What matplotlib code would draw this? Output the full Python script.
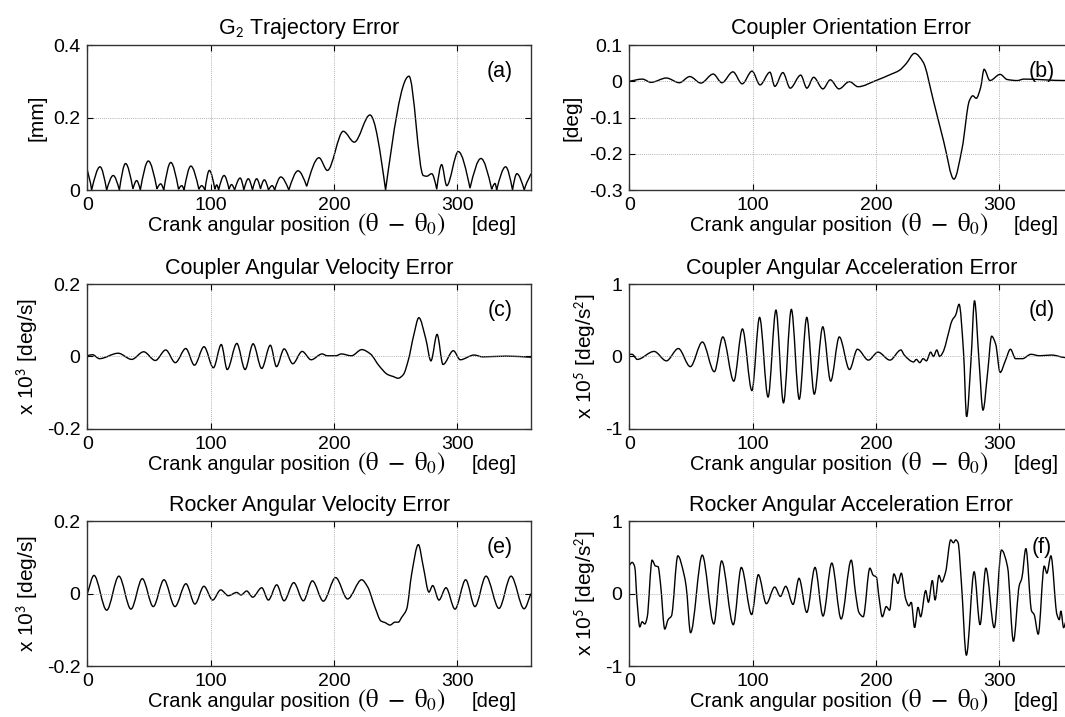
import matplotlib
matplotlib.use("Agg")
import matplotlib.pyplot as plt
from matplotlib.path import Path
from matplotlib.patches import PathPatch

plt.rcParams['font.family'] = ['Liberation Sans', 'DejaVu Sans']
plt.rcParams['mathtext.fontset'] = 'stix'

# (a) G2 trajectory error [mm]
a_x = [0, 3.5, 10.3, 15.7, 21, 26, 31, 37, 40, 43, 49.5, 56.5, 59.5, 62, 67.7, 74, 76.6, 78.5,
       84, 90.5, 92.8, 95.4, 99, 103.5, 105, 106.5, 111, 115, 117, 119.5, 124, 127, 130.6, 134,
       137.4, 140.5, 143.6, 147, 150, 152, 157, 163.5, 171, 178, 188, 194.8, 207.7, 216.6,
       229.3, 242, 261, 272.6, 275.4, 279.4, 283.5, 287.5, 291.6, 301, 310.5, 319.4, 328.1,
       330.8, 332.1, 339.4, 345, 348.5, 354.5, 360]
a_y = [0.055, 0, 0.064, 0, 0.040, 0, 0.073, 0.003, 0.026, 0, 0.080, 0.003, 0.017, 0, 0.076, 0.002, 0.012, 0,
       0.066, 0.002, 0.012, 0, 0.054, 0.002, 0.014, 0, 0.040, 0.002, 0.015, 0, 0.033, 0, 0.031, 0,
       0.031, 0.003, 0.028, 0, 0.012, 0, 0.036, 0, 0.053, 0.010, 0.089, 0.054, 0.162, 0.132,
       0.207, 0, 0.314, 0.040, 0.038, 0.045, 0.002, 0.070, 0.012, 0.106, 0.005, 0.087, 0.002,
       0.018, 0, 0.064, 0, 0.045, 0, 0.045]

# (b) coupler orientation error [deg]
b_x = [0, 10.5, 17.5, 30, 40.5, 49, 58, 68, 75, 84, 91.5, 99.5, 106, 114, 118, 124.5, 130.5,
       139, 144, 149.5, 157, 163, 170, 178.5, 185.5, 200, 212, 219, 224.4, 231.4, 238.3, 246.7,
       255, 263.3, 270, 275.8, 278.6, 281.4, 285, 287.8, 292.5, 300.8, 306.4, 314.7, 320, 353.6, 360]
b_y = [0, 0.006, -0.003, 0.009, -0.004, 0.013, -0.005, 0.020, -0.004, 0.026, -0.007, 0.028, -0.010,
       0.025, -0.014, 0.024, -0.019, 0.017, -0.019, 0.011, -0.021, 0.004, -0.021, -0.001, -0.015,
       0.002, 0.019, 0.030, 0.048, 0.077, 0.053, -0.054, -0.166, -0.270, -0.184, -0.054, -0.040,
       -0.047, -0.017, 0.033, 0.002, 0.019, 0.005, 0.002, 0.006, 0.002, 0.002]

# (c) coupler angular velocity error [x10^3 deg/s]
c_x = [0, 4.2, 9.8, 25, 36, 45.7, 55.2, 63.6, 71.4, 79.9, 86.9, 94.7, 102.3, 108.7, 113.5, 121.3,
       128, 134.5, 141.5, 148.5, 153.5, 159.7, 166.7, 174.3, 181.6, 190.5, 194.7, 201.7, 206,
       214.3, 222.7, 229.7, 236.8, 243.8, 248, 252.2, 256.4, 260.6, 264.8, 269, 274.6, 278.8,
       283.8, 288.6, 297, 302.6, 313.8, 320.8, 340, 360]
c_y = [0.002, 0.005, -0.006, 0.009, -0.008, 0.013, -0.011, 0.018, -0.017, 0.022, -0.024, 0.027,
       -0.031, 0.033, -0.036, 0.036, -0.036, 0.035, -0.033, 0.031, -0.028, 0.021, -0.020, 0.014,
       -0.009, 0.007, 0.002, 0.002, 0.007, 0.002, 0.019, 0.007, -0.026, -0.050, -0.055, -0.060,
       -0.050, -0.008, 0.058, 0.107, 0.049, -0.012, 0.061, -0.022, 0.016, -0.009, 0.004, -0.001,
       0.001, -0.002]

# (d) coupler angular acceleration error [x10^5 deg/s^2]
d_x = [0, 2.2, 6.4, 20, 30, 39.7, 49.4, 59.2, 68.9, 75.8, 84.7, 91.7, 99.4, 105.6, 112.5, 118.9,
       125, 131.4, 137.8, 143.9, 150, 156.9, 163.3, 170.3, 178.6, 185, 193.9, 201.7, 211.4, 220.3,
       223, 230.6, 232.8, 235.6, 238.3, 241, 244.4, 246.7, 249.4, 251.7, 255, 257.8, 261.9, 264.7,
       267.5, 271.1, 273.6, 277.2, 280, 283.6, 286.9, 290.6, 293.9, 297.2, 300.8, 305, 309.2,
       313.3, 318.9, 325.8, 332.8, 342.5, 353.6, 360]
d_y = [0.03, 0.03, -0.04, 0.07, -0.06, 0.11, -0.14, 0.20, -0.21, 0.27, -0.34, 0.38, -0.47, 0.54,
       -0.56, 0.64, -0.64, 0.65, -0.59, 0.54, -0.52, 0.41, -0.34, 0.27, -0.18, 0.10, -0.05, 0.06,
       -0.05, 0.09, 0.02, -0.075, -0.04, -0.085, -0.03, -0.06, 0.06, 0.0, 0.09, 0.0, 0.08, 0.25,
       0.50, 0.57, 0.72, 0.06, -0.83, -0.04, 0.77, -0.04, -0.74, -0.23, 0.28, 0.17, -0.22, -0.06,
       0.10, -0.03, -0.03, 0.03, 0.01, 0.02, -0.015, -0.02]

# (e) rocker angular velocity error [x10^3 deg/s]
e_x = [0, 5.4, 15.7, 25.6, 35.4, 44.6, 53.5, 62.2, 71.1, 80, 87.3, 94.6, 101.7, 108.2, 114.4,
       121.2, 124.7, 129.3, 134.2, 141.5, 146.9, 153.7, 159.6, 167.5, 175.3, 182.6, 191.5, 201.5,
       211.2, 222.6, 227.5, 233.4, 238.3, 241.5, 245.6, 249.6, 252.3, 255, 259.1, 263.2, 268.6,
       272.6, 277.2, 280.2, 285.3, 291, 298.3, 307, 314.5, 323.5, 334, 343.8, 354.4, 360]
e_y = [0, 0.050, -0.046, 0.048, -0.043, 0.041, -0.036, 0.038, -0.036, 0.027, -0.029, 0.020,
       -0.018, 0.010, -0.006, 0.003, -0.004, 0.007, -0.010, 0.016, -0.018, 0.024, -0.020, 0.030,
       -0.020, 0.035, -0.021, 0.044, -0.015, 0.038, 0.018, -0.038, -0.076, -0.080, -0.087,
       -0.079, -0.079, -0.066, -0.043, 0.055, 0.135, 0.074, 0.004, 0.022, -0.018, 0.016, -0.043,
       0.038, -0.036, 0.048, -0.041, 0.048, -0.042, 0]

# (f) rocker angular acceleration error [x10^5 deg/s^2]
f_x = [0, 2.2, 4.3, 6.2, 8.4, 10.3, 12.5, 14.4, 18.4, 21.1, 23.3, 25.2, 28.7, 31.4, 34.1, 39.3,
       44.2, 46.1, 49.6, 59.1, 68.5, 74.8, 84.3, 90.8, 99.2, 104.6, 111.1, 117.9, 122.5, 126.8,
       132.8, 137.6, 143.9, 150.6, 157.1, 164.2, 171.8, 180, 183.5, 186.2, 189.7, 195.1, 197.9,
       200.3, 202.5, 205.2, 208.4, 211.1, 214.6, 217.9, 220.6, 224.1, 226.8, 228.7, 231.4, 234.2,
       236.3, 240.4, 242.6, 245.8, 248, 251.2, 253.4, 256.6, 260.7, 262.9, 264.8, 266.7, 269.4,
       273.4, 279.7, 284.5, 289.2, 296, 301.9, 306.8, 311.6, 316.3, 318.4, 321.7, 326.3, 328.4,
       331.7, 336.6, 338.7, 342, 346.9, 348.8, 350.1, 352.3, 354.2, 360]
f_y = [0.39, 0.43, 0.37, -0.10, -0.46, -0.39, -0.42, -0.33, 0.46, 0.38, 0.37, 0.14, -0.49, -0.36,
       -0.31, 0.52, 0.27, 0.09, -0.54, 0.53, -0.42, 0.45, -0.43, 0.36, -0.29, 0.26, -0.14, 0.09,
       -0.04, 0.10, -0.15, 0.21, -0.26, 0.36, -0.31, 0.42, -0.35, 0.46, 0.0, -0.26, -0.32, 0.35,
       0.25, 0.23, -0.05, -0.32, -0.18, -0.23, 0.27, 0.14, 0.28, -0.07, -0.17, -0.12, -0.47,
       -0.19, -0.32, 0.04, -0.12, 0.18, -0.09, 0.25, 0.16, 0.30, 0.74, 0.70, 0.74, 0.70, 0.14,
       -0.85, 0.30, -0.43, 0.35, -0.47, 0.60, 0.37, -0.66, 0.11, 0.21, 0.62, -0.24, -0.29, -0.56,
       0.38, 0.28, 0.52, -0.29, -0.36, -0.24, -0.47, -0.38, -0.15]

titles = [r'G$_\mathsf{2}$ Trajectory Error', 'Coupler Orientation Error',
          'Coupler Angular Velocity Error', 'Coupler Angular Acceleration Error',
          'Rocker Angular Velocity Error', 'Rocker Angular Acceleration Error']
ylabels = ['[mm]', '[deg]',
           r'x 10$^\mathsf{3}$ [deg/s]', r'x 10$^\mathsf{5}$ [deg/s$^\mathsf{2}$]',
           r'x 10$^\mathsf{3}$ [deg/s]', r'x 10$^\mathsf{5}$ [deg/s$^\mathsf{2}$]']
tags = ['(a)', '(b)', '(c)', '(d)', '(e)', '(f)']
yticks = [[0, 0.2, 0.4], [-0.3, -0.2, -0.1, 0, 0.1], [-0.2, 0, 0.2],
          [-1, 0, 1], [-0.2, 0, 0.2], [-1, 0, 1]]
ytick_labels = [['0', '0.2', '0.4'], ['-0.3', '-0.2', '-0.1', '0', '0.1'], ['-0.2', '0', '0.2'],
                ['-1', '0', '1'], ['-0.2', '0', '0.2'], ['-1', '0', '1']]
xticks = [0, 100, 200, 300]
series = [(a_x, a_y), (b_x, b_y), (c_x, c_y), (d_x, d_y), (e_x, e_y), (f_x, f_y)]
# panel (a) is a magnitude: its near-zero minima are sharp cusps
cusp_limit = [0.01, None, None, None, None, None]


def smooth_path(xs, ys, cusp=None):
    # monotone cubic (bezier) through the read points, no overshoot
    n = len(xs)
    h = [xs[k + 1] - xs[k] for k in range(n - 1)]
    d = [(ys[k + 1] - ys[k]) / h[k] for k in range(n - 1)]
    ml = [0.0] * n
    mr = [0.0] * n
    ml[0] = mr[0] = d[0]
    ml[-1] = mr[-1] = d[-1]
    for k in range(1, n - 1):
        if cusp is not None and ys[k] <= cusp and d[k - 1] < 0 < d[k]:
            ml[k] = 1.5 * d[k - 1]
            mr[k] = 1.5 * d[k]
        elif d[k - 1] * d[k] <= 0:
            ml[k] = mr[k] = 0.0
        else:
            w1 = 2 * h[k] + h[k - 1]
            w2 = h[k] + 2 * h[k - 1]
            ml[k] = mr[k] = (w1 + w2) / (w1 / d[k - 1] + w2 / d[k])
    verts = [(xs[0], ys[0])]
    codes = [Path.MOVETO]
    for k in range(n - 1):
        t = h[k] / 3.0
        verts += [(xs[k] + t, ys[k] + mr[k] * t),
                  (xs[k + 1] - t, ys[k + 1] - ml[k + 1] * t),
                  (xs[k + 1], ys[k + 1])]
        codes += [Path.CURVE4] * 3
    return Path(verts, codes)


fig = plt.figure(figsize=(10.65, 7.17), dpi=100)
lefts = [0.082, 0.591]
bottoms = [0.735, 0.4017, 0.0711]
w, h = 0.4166, 0.2022

for i, (xs, ys) in enumerate(series):
    row, col = i // 2, i % 2
    ax = fig.add_axes([lefts[col], bottoms[row], w, h])
    ax.add_patch(PathPatch(smooth_path(xs, ys, cusp_limit[i]), fill=False,
                           edgecolor='black', lw=1.0))
    ax.set_xlim(0, 360)
    ax.set_ylim(yticks[i][0], yticks[i][-1])
    ax.set_xticks(xticks)
    ax.set_yticks(yticks[i])
    ax.set_yticklabels(ytick_labels[i])
    ax.grid(True, linestyle=(0, (1, 1.5)), color='#999999', lw=0.6)
    ax.tick_params(direction='in', length=4, labelsize=14, pad=5, top=True, right=True)
    for s in ax.spines.values():
        s.set_color('#333333')
        s.set_linewidth(1.0)
    ax.set_title(titles[i], fontsize=15.5, pad=8 if row == 0 else 7)
    ax.set_ylabel(ylabels[i], fontsize=15, labelpad=5)
    ax.text(0.137, -0.283, 'Crank angular position', transform=ax.transAxes,
            ha='left', va='baseline', fontsize=14.5)
    ax.text(0.709, -0.283, r'$(\mathrm{\theta}\ -\ \mathrm{\theta}_{0})$', transform=ax.transAxes,
            ha='center', va='baseline', fontsize=18)
    ax.text(0.867, -0.283, '[deg]', transform=ax.transAxes,
            ha='left', va='baseline', fontsize=14.5)
    ax.text(0.93, 0.82, tags[i], transform=ax.transAxes, ha='center', va='center', fontsize=15.5)

fig.savefig('out.png', dpi=100)
